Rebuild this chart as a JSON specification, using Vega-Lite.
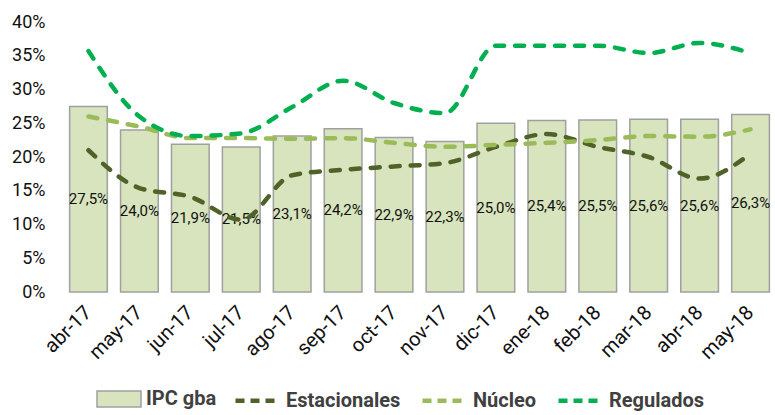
{
  "$schema": "https://vega.github.io/schema/vega-lite/v6.json",
  "width": 713,
  "height": 270,
  "padding": {"left": 11, "top": 13, "right": 0, "bottom": 0},
  "background": "white",
  "config": {
    "view": {"stroke": null},
    "font": "Roboto"
  },
  "datasets": {
    "ipc": [
      {"mes": "abr-17", "serie": "IPC gba", "valor": 0.275, "etiqueta": "27,5%"},
      {"mes": "may-17", "serie": "IPC gba", "valor": 0.240, "etiqueta": "24,0%"},
      {"mes": "jun-17", "serie": "IPC gba", "valor": 0.219, "etiqueta": "21,9%"},
      {"mes": "jul-17", "serie": "IPC gba", "valor": 0.215, "etiqueta": "21,5%"},
      {"mes": "ago-17", "serie": "IPC gba", "valor": 0.231, "etiqueta": "23,1%"},
      {"mes": "sep-17", "serie": "IPC gba", "valor": 0.242, "etiqueta": "24,2%"},
      {"mes": "oct-17", "serie": "IPC gba", "valor": 0.229, "etiqueta": "22,9%"},
      {"mes": "nov-17", "serie": "IPC gba", "valor": 0.223, "etiqueta": "22,3%"},
      {"mes": "dic-17", "serie": "IPC gba", "valor": 0.250, "etiqueta": "25,0%"},
      {"mes": "ene-18", "serie": "IPC gba", "valor": 0.254, "etiqueta": "25,4%"},
      {"mes": "feb-18", "serie": "IPC gba", "valor": 0.255, "etiqueta": "25,5%"},
      {"mes": "mar-18", "serie": "IPC gba", "valor": 0.256, "etiqueta": "25,6%"},
      {"mes": "abr-18", "serie": "IPC gba", "valor": 0.256, "etiqueta": "25,6%"},
      {"mes": "may-18", "serie": "IPC gba", "valor": 0.263, "etiqueta": "26,3%"}
    ],
    "componentes": [
      {"mes": "abr-17", "serie": "Estacionales", "valor": 0.210},
      {"mes": "may-17", "serie": "Estacionales", "valor": 0.154},
      {"mes": "jun-17", "serie": "Estacionales", "valor": 0.141},
      {"mes": "jul-17", "serie": "Estacionales", "valor": 0.107},
      {"mes": "ago-17", "serie": "Estacionales", "valor": 0.173},
      {"mes": "sep-17", "serie": "Estacionales", "valor": 0.181},
      {"mes": "oct-17", "serie": "Estacionales", "valor": 0.186},
      {"mes": "nov-17", "serie": "Estacionales", "valor": 0.191},
      {"mes": "dic-17", "serie": "Estacionales", "valor": 0.215},
      {"mes": "ene-18", "serie": "Estacionales", "valor": 0.234},
      {"mes": "feb-18", "serie": "Estacionales", "valor": 0.215},
      {"mes": "mar-18", "serie": "Estacionales", "valor": 0.200},
      {"mes": "abr-18", "serie": "Estacionales", "valor": 0.168},
      {"mes": "may-18", "serie": "Estacionales", "valor": 0.205},
      {"mes": "abr-17", "serie": "Núcleo", "valor": 0.260},
      {"mes": "may-17", "serie": "Núcleo", "valor": 0.245},
      {"mes": "jun-17", "serie": "Núcleo", "valor": 0.228},
      {"mes": "jul-17", "serie": "Núcleo", "valor": 0.228},
      {"mes": "ago-17", "serie": "Núcleo", "valor": 0.227},
      {"mes": "sep-17", "serie": "Núcleo", "valor": 0.228},
      {"mes": "oct-17", "serie": "Núcleo", "valor": 0.221},
      {"mes": "nov-17", "serie": "Núcleo", "valor": 0.215},
      {"mes": "dic-17", "serie": "Núcleo", "valor": 0.218},
      {"mes": "ene-18", "serie": "Núcleo", "valor": 0.221},
      {"mes": "feb-18", "serie": "Núcleo", "valor": 0.225},
      {"mes": "mar-18", "serie": "Núcleo", "valor": 0.231},
      {"mes": "abr-18", "serie": "Núcleo", "valor": 0.230},
      {"mes": "may-18", "serie": "Núcleo", "valor": 0.241},
      {"mes": "abr-17", "serie": "Regulados", "valor": 0.357},
      {"mes": "may-17", "serie": "Regulados", "valor": 0.260},
      {"mes": "jun-17", "serie": "Regulados", "valor": 0.231},
      {"mes": "jul-17", "serie": "Regulados", "valor": 0.235},
      {"mes": "ago-17", "serie": "Regulados", "valor": 0.274},
      {"mes": "sep-17", "serie": "Regulados", "valor": 0.313},
      {"mes": "oct-17", "serie": "Regulados", "valor": 0.280},
      {"mes": "nov-17", "serie": "Regulados", "valor": 0.265},
      {"mes": "dic-17", "serie": "Regulados", "valor": 0.365},
      {"mes": "ene-18", "serie": "Regulados", "valor": 0.365},
      {"mes": "feb-18", "serie": "Regulados", "valor": 0.365},
      {"mes": "mar-18", "serie": "Regulados", "valor": 0.354},
      {"mes": "abr-18", "serie": "Regulados", "valor": 0.369},
      {"mes": "may-18", "serie": "Regulados", "valor": 0.354}
    ]
  },
  "encoding": {
    "x": {
      "field": "mes",
      "type": "ordinal",
      "sort": null,
      "scale": {"paddingInner": 0.26, "paddingOuter": 0.13},
      "axis": {
        "title": null,
        "domain": false,
        "ticks": false,
        "labelAngle": -45,
        "labelAlign": "right",
        "labelBaseline": "middle",
        "labelPadding": 17,
        "labelFontSize": 20,
        "labelColor": "#111111"
      }
    },
    "y": {
      "field": "valor",
      "type": "quantitative",
      "scale": {"domain": [0, 0.4], "nice": false},
      "axis": {
        "title": null,
        "values": [0, 0.05, 0.1, 0.15, 0.2, 0.25, 0.3, 0.35, 0.4],
        "format": ".0%",
        "grid": false,
        "domain": false,
        "ticks": false,
        "labelPadding": 18,
        "labelFontSize": 18,
        "labelColor": "#111111"
      }
    }
  },
  "layer": [
    {
      "data": {"name": "ipc"},
      "mark": {"type": "bar", "stroke": "#A0A0A0", "strokeWidth": 1.5},
      "encoding": {
        "fill": {
          "field": "serie",
          "type": "nominal",
          "scale": {"domain": ["IPC gba"], "range": ["#D7E4BD"]},
          "legend": {
            "title": null,
            "orient": "none",
            "legendX": 33,
            "legendY": 354,
            "labelFontSize": 20,
            "labelFontWeight": "bold",
            "labelColor": "#404040",
            "labelOffset": 4,
            "symbolType": "M-1,-0.36H1V0.36H-1Z",
            "symbolSize": 1936,
            "symbolStrokeColor": "#A0A0A0",
            "symbolStrokeWidth": 1.5
          }
        }
      }
    },
    {
      "data": {"name": "ipc"},
      "mark": {"type": "text", "baseline": "middle", "align": "center", "fontSize": 15, "color": "#111111", "dy": {"expr": "datum.valor * 337.5"}},
      "encoding": {
        "text": {"field": "etiqueta", "type": "nominal"}
      }
    },
    {
      "data": {"name": "componentes"},
      "mark": {"type": "line", "interpolate": "monotone", "strokeWidth": 4.5, "strokeDash": [9, 11], "strokeCap": "round"},
      "encoding": {
        "stroke": {
          "field": "serie",
          "type": "nominal",
          "scale": {
            "domain": ["Estacionales", "Núcleo", "Regulados"],
            "range": ["#4F6228", "#9BBB59", "#00B050"]
          },
          "legend": {
            "title": null,
            "orient": "none",
            "direction": "horizontal",
            "legendX": 170,
            "legendY": 354,
            "labelFontSize": 20,
            "labelFontWeight": "bold",
            "labelColor": "#404040",
            "labelOffset": 4,
            "columnPadding": 12,
            "symbolType": "stroke",
            "symbolSize": 1936,
            "symbolStrokeWidth": 4.5,
            "symbolDash": [9, 6]
          }
        }
      }
    }
  ]
}
